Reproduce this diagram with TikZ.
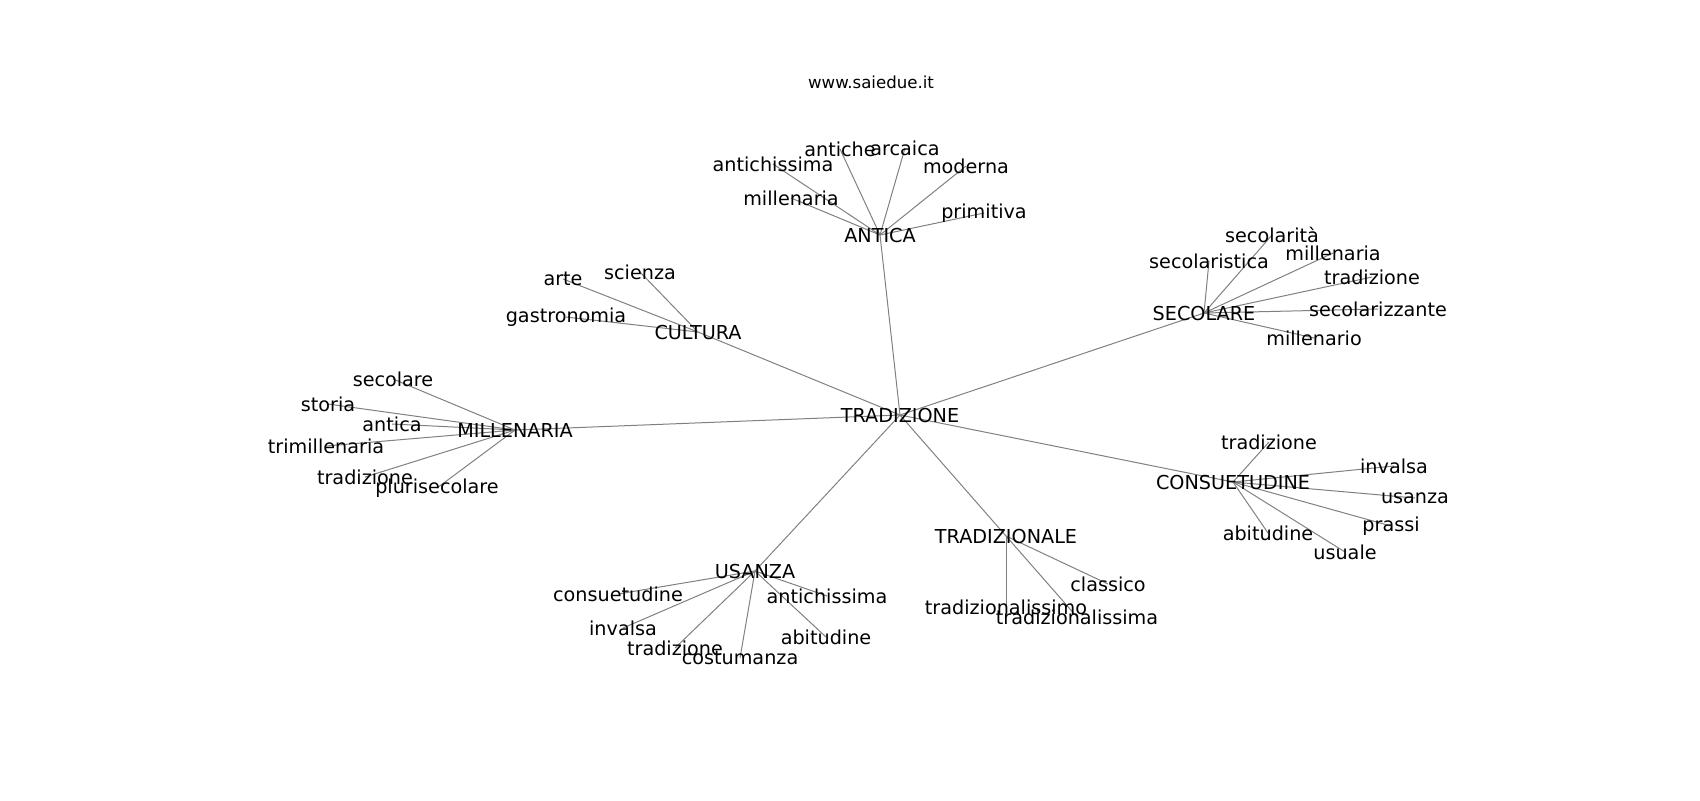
\documentclass[tikz,border=0pt]{standalone}
\usepackage{fontspec}
\setmainfont{DejaVu Sans}
\usetikzlibrary{backgrounds}

\begin{document}
\begin{tikzpicture}[x=0.5pt,y=-0.5pt]
	\tikzstyle{every node}=[inner sep=0pt,font=\fontsize{9.6}{11}\selectfont]
	\tikzstyle{edge}=[draw=gray,line width=0.5pt]
	\useasboundingbox (0,0) rectangle (1700,800);

	\node(title) at (871,82) [font=\fontsize{8.3}{10}\selectfont]{www.saiedue.it};

	\node(tradizione) at (900,415){TRADIZIONE};

	\node(antica) at (880,235){ANTICA};
	\node(antica1) at (773,164){antichissima};
	\node(antica2) at (840,149){antiche};
	\node(antica3) at (905,148){arcaica};
	\node(antica4) at (966,166){moderna};
	\node(antica5) at (791,198){millenaria};
	\node(antica6) at (984,213){primitiva};

	\node(cultura) at (698,332){CULTURA};
	\node(cultura1) at (563,279){arte};
	\node(cultura2) at (640,272){scienza};
	\node(cultura3) at (566,317){gastronomia};

	\node(secolare) at (1204,313){SECOLARE};
	\node(secolare1) at (1272,235){secolarità};
	\node(secolare2) at (1209,261){secolaristica};
	\node(secolare3) at (1333,253){millenaria};
	\node(secolare4) at (1372,277){tradizione};
	\node(secolare5) at (1378,309){secolarizzante};
	\node(secolare6) at (1314,338){millenario};

	\node(millenaria) at (515,430){MILLENARIA};
	\node(millenaria1) at (393,379){secolare};
	\node(millenaria2) at (328,404){storia};
	\node(millenaria3) at (392,424){antica};
	\node(millenaria4) at (326,446){trimillenaria};
	\node(millenaria5) at (365,477){tradizione};
	\node(millenaria6) at (437,488){plurisecolare};

	\node(consuetudine) at (1233,482){CONSUETUDINE};
	\node(consuetudine1) at (1269,442){tradizione};
	\node(consuetudine2) at (1394,466){invalsa};
	\node(consuetudine3) at (1415,498){usanza};
	\node(consuetudine4) at (1391,526){prassi};
	\node(consuetudine5) at (1268,533){abitudine};
	\node(consuetudine6) at (1345,552){usuale};

	\node(usanza) at (755,571){USANZA};
	\node(usanza1) at (618,594){consuetudine};
	\node(usanza2) at (827,596){antichissima};
	\node(usanza3) at (623,628){invalsa};
	\node(usanza4) at (826,637){abitudine};
	\node(usanza5) at (675,648){tradizione};
	\node(usanza6) at (740,658){costumanza};

	\node(tradizionale) at (1006,536){TRADIZIONALE};
	\node(tradizionale1) at (1108,584){classico};
	\node(tradizionale2) at (1006,607){tradizionalissimo};
	\node(tradizionale3) at (1077,617){tradizionalissima};

	\begin{pgfonlayer}{background} % lines under the words
		\foreach \n in {antica,cultura,secolare,millenaria,consuetudine,usanza,tradizionale}
			\draw[edge] (tradizione.center) -- (\n.center);
		\foreach \n in {antica,secolare,millenaria,consuetudine,usanza}
			\foreach \i in {1,...,6}
				\draw[edge] (\n.center) -- (\n\i.center);
		\foreach \n in {cultura,tradizionale}
			\foreach \i in {1,2,3}
				\draw[edge] (\n.center) -- (\n\i.center);
	\end{pgfonlayer}
\end{tikzpicture}
\end{document}
